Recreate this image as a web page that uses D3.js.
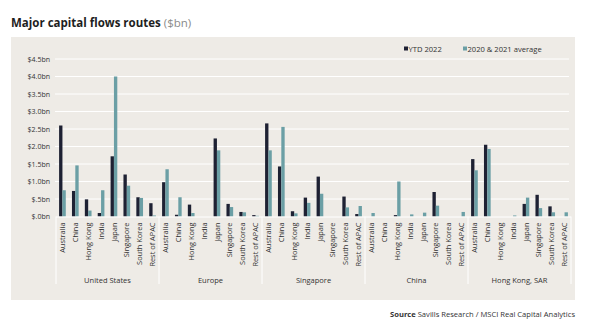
<!DOCTYPE html>
<html>
<head>
<meta charset="utf-8">
<script src="https://cdn.jsdelivr.net/npm/d3@7"></script>
<style>
  body { margin: 0; background: #fff; }
  svg { display: block; font-family: "Open Sans", Lato, sans-serif; }
</style>
</head>
<body>
<div id="chart"></div>
<script>
// data ($bn)
const groups = ["United States", "Europe", "Singapore", "China", "Hong Kong, SAR"];
const markets = ["Australia", "China", "Hong Kong", "India", "Japan", "Singapore", "South Korea", "Rest of APAC"];
const seriesNames = ["YTD 2022", "2020 & 2021 average"];
const ytd2022 = [
    2.60, 0.73, 0.49, 0.10, 1.72, 1.20, 0.55, 0.38,
    0.98, 0.05, 0.34, 0.00, 2.23, 0.36, 0.13, 0.04,
    2.66, 1.43, 0.15, 0.54, 1.14, 0.00, 0.57, 0.07,
    0.00, 0.00, 0.04, 0.00, 0.00, 0.70, 0.00, 0.00,
    1.64, 2.05, 0.00, 0.00, 0.36, 0.62, 0.29, 0.00
];
const avg2020_2021 = [
    0.75, 1.46, 0.17, 0.75, 4.00, 0.88, 0.53, 0.03,
    1.35, 0.55, 0.10, 0.00, 1.89, 0.27, 0.12, 0.02,
    1.89, 2.56, 0.09, 0.39, 0.65, 0.00, 0.26, 0.30,
    0.10, 0.00, 1.00, 0.06, 0.11, 0.31, 0.00, 0.13,
    1.32, 1.93, 0.00, 0.03, 0.54, 0.24, 0.12, 0.12
];
const yTicks = [0, 0.5, 1, 1.5, 2, 2.5, 3, 3.5, 4, 4.5];
const yTickLabels = ["$.0bn", "$.5bn", "$1.0bn", "$1.5bn", "$2.0bn", "$2.5bn", "$3.0bn", "$3.5bn", "$4.0bn", "$4.5bn"];

const width = 593, height = 335;
const colors = ["#1e2133", "#6b9fa5"];

const svg = d3.select("#chart").append("svg")
    .attr("width", width)
    .attr("height", height);

// panel
svg.append("rect")
    .attr("x", 11).attr("y", 37)
    .attr("width", 564).attr("height", 263)
    .attr("fill", "#eeebe6");

// title
const title = svg.append("text")
    .attr("x", 11).attr("y", 27)
    .attr("font-size", 11.5)
    .attr("fill", "#1e1e1e");
title.append("tspan").attr("font-weight", "bold").text("Major capital flows routes");
title.append("tspan").attr("fill", "#8a8a8a").text(" ($bn)");

// flatten rows
const rows = [];
groups.forEach((g, gi) => {
    markets.forEach((m, mi) => {
        const i = gi * markets.length + mi;
        rows.push({ key: g + "|" + m, group: g, market: m, values: [ytd2022[i], avg2020_2021[i]] });
    });
});

const x0 = 56, x1 = 571;
const x = d3.scaleBand()
    .domain(rows.map(d => d.key))
    .range([x0, x1])
    .paddingInner(0.48)
    .paddingOuter(0.24);
const xs = d3.scaleBand()
    .domain([0, 1])
    .range([0, x.bandwidth()]);
const y = d3.scaleLinear()
    .domain([0, 4.5])
    .range([216.5, 59]);

// gridlines
svg.append("g")
    .selectAll("line")
    .data(yTicks.slice(1))
    .join("line")
    .attr("x1", 55).attr("x2", 569)
    .attr("y1", d => y(d)).attr("y2", d => y(d))
    .attr("stroke", "#fff")
    .attr("stroke-width", 1);

// y axis labels
const yAxis = svg.append("g")
    .attr("transform", "translate(50,0)")
    .call(d3.axisLeft(y).tickValues(yTicks).tickSize(0).tickPadding(0)
        .tickFormat((d, i) => yTickLabels[i]));
yAxis.select(".domain").remove();
yAxis.selectAll("text")
    .attr("font-family", "'Open Sans', Lato, sans-serif")
    .attr("font-size", 7)
    .attr("fill", "#333");

// bars
const bars = svg.append("g")
    .selectAll("g")
    .data(rows)
    .join("g")
    .attr("transform", d => "translate(" + x(d.key) + ",0)");
bars.selectAll("rect")
    .data(d => d.values.map((v, i) => ({ v, i })))
    .join("rect")
    .attr("x", d => xs(d.i))
    .attr("width", xs.bandwidth())
    .attr("y", d => y(d.v))
    .attr("height", d => y(0) - y(d.v))
    .attr("fill", d => colors[d.i]);

// category axis: baseline and group separators
const groupWidth = (x1 - x0) / groups.length;
svg.append("line")
    .attr("x1", x0).attr("x2", x1)
    .attr("y1", y(0) + 0.5).attr("y2", y(0) + 0.5)
    .attr("stroke", "#fff").attr("stroke-width", 1);
svg.append("g")
    .selectAll("line")
    .data(d3.range(groups.length + 1))
    .join("line")
    .attr("x1", i => x0 + i * groupWidth).attr("x2", i => x0 + i * groupWidth)
    .attr("y1", y(0)).attr("y2", 284)
    .attr("stroke", "#fff").attr("stroke-width", 1);

// market labels (rotated)
svg.append("g")
    .selectAll("text")
    .data(rows)
    .join("text")
    .attr("transform", d => "translate(" + (x(d.key) + x.bandwidth() / 2 + 2.6) + ",222.5) rotate(-90)")
    .attr("text-anchor", "end")
    .attr("font-size", 7.4)
    .attr("fill", "#333")
    .text(d => d.market);

// group labels
svg.append("g")
    .selectAll("text")
    .data(groups)
    .join("text")
    .attr("x", (d, i) => x0 + (i + 0.5) * groupWidth)
    .attr("y", 282.5)
    .attr("text-anchor", "middle")
    .attr("font-size", 7.5)
    .attr("fill", "#333")
    .text(d => d);

// legend
const legendX = [404, 463];
const legend = svg.append("g")
    .selectAll("g")
    .data(seriesNames)
    .join("g")
    .attr("transform", (d, i) => "translate(" + legendX[i] + ",49)");
legend.append("rect")
    .attr("x", 0).attr("y", -2.5)
    .attr("width", 4).attr("height", 4)
    .attr("fill", (d, i) => colors[i]);
legend.append("text")
    .attr("x", 4.5).attr("y", 2.6)
    .attr("font-size", 7.6)
    .attr("fill", "#333")
    .text(d => d);

// source
const source = svg.append("text")
    .attr("x", 575).attr("y", 317)
    .attr("text-anchor", "end")
    .attr("font-size", 7.6)
    .attr("fill", "#333");
source.append("tspan").attr("font-weight", "bold").text("Source");
source.append("tspan").text(" Savills Research / MSCI Real Capital Analytics");
</script>
</body>
</html>
